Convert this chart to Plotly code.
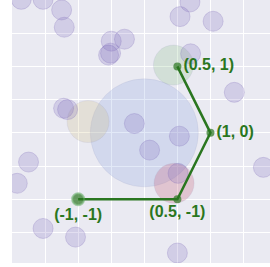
import plotly.graph_objects as go

# small purple bubbles
bubble_x = [-1.86, -1.53, -1.25, -1.21, -0.50, -0.30, -0.54, -0.51, 0.54, 0.69, 1.04,
            0.70, 1.36, -1.22, -1.16, -1.75, -1.92, -0.15, 0.08, 0.53, 0.51, 1.80,
            -1.53, -1.04, 0.50]
bubble_y = [2.01, 2.01, 1.85, 1.59, 1.38, 1.41, 1.17, 1.20, 1.75, 1.97, 1.68,
            1.19, 0.61, 0.37, 0.35, -0.44, -0.76, 0.14, -0.26, -0.05, -0.61, -0.52,
            -1.44, -1.57, -1.81]

# large coloured bubbles
big_x = [0.0, -0.85, 0.44, 0.45]
big_y = [0.0, 0.17, 1.02, -0.76]
big_size = [108, 42, 40, 40]
big_colors = ["rgba(110,145,220,0.28)", "rgba(205,185,120,0.30)",
              "rgba(110,180,110,0.28)", "rgba(200,100,125,0.40)"]

# path
path_x = [-1, 0.5, 1, 0.5]
path_y = [-1, -1, 0, 1]
path_labels = ["(-1, -1)", "(0.5, -1)", "(1, 0)", "(0.5, 1)"]
label_pos = ["bottom center", "bottom center", "middle right", "middle right"]

green = "rgb(42,118,32)"

fig = go.Figure()
fig.add_trace(go.Scatter(
    x=big_x, y=big_y, mode="markers",
    marker=dict(size=big_size, color=big_colors,
                line=dict(width=1, color="rgba(120,120,170,0.15)")),
    hoverinfo="skip", showlegend=False))
fig.add_trace(go.Scatter(
    x=bubble_x, y=bubble_y, mode="markers",
    marker=dict(size=20, color="rgba(125,105,185,0.22)",
                line=dict(width=1, color="rgba(125,105,185,0.25)")),
    hoverinfo="skip", showlegend=False))
fig.add_trace(go.Scatter(
    x=path_x, y=path_y, mode="lines+markers+text",
    text=path_labels, textposition=label_pos,
    textfont=dict(family="Liberation Sans, Arial", size=16, color=green, weight="bold"),
    line=dict(color=green, width=2.5),
    marker=dict(size=[12, 8, 8, 8], color=green,
                line=dict(width=[2, 0, 0, 0], color="rgba(90,170,90,0.7)")),
    showlegend=False))

fig.update_layout(
    width=270, height=267,
    margin=dict(l=12, r=0, t=0, b=4),
    paper_bgcolor="white",
    plot_bgcolor="#EAEAF2",
    xaxis=dict(range=[-2, 1.9], dtick=0.5, tick0=0, showticklabels=False,
               gridcolor="white", gridwidth=1.2, zeroline=False, showline=False, ticks=""),
    yaxis=dict(range=[-1.96, 2.0], dtick=0.5, tick0=0, showticklabels=False,
               gridcolor="white", gridwidth=1.2, zeroline=False, showline=False, ticks=""),
)

fig.write_html("out.html", config={"displayModeBar": False},
               post_script="document.body.style.margin='0px';")
